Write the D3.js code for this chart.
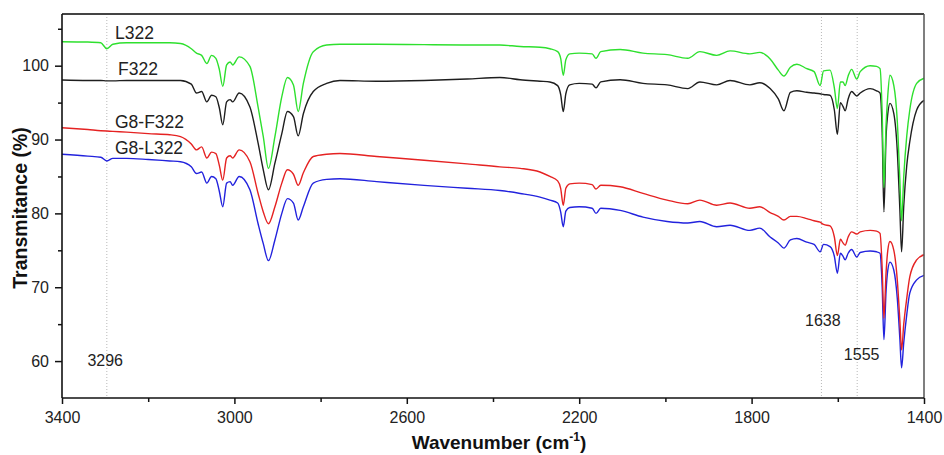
<!DOCTYPE html>
<html>
<head>
<meta charset="utf-8">
<script src="https://cdn.jsdelivr.net/npm/d3@7"></script>
<style>
  body { margin: 0; background: #fff; }
  text { font-family: "Liberation Sans", Arial, sans-serif; }
</style>
</head>
<body>
<div id="chart"></div>
<script>
// data (wavenumber grid shared by all four spectra)
var wavenumbers = [
  3400, 3340, 3310, 3296, 3282, 3250, 3200, 3150, 3125, 3100,
  3088, 3076, 3064, 3053, 3043, 3035, 3027, 3018, 3010, 3004,
  2989, 2964, 2945, 2933, 2921, 2906, 2890, 2877, 2863, 2852,
  2840, 2817, 2786, 2755, 2670, 2560, 2460, 2384, 2337, 2291,
  2268, 2250, 2243, 2237, 2231, 2222, 2200, 2170, 2161, 2150,
  2105, 2052, 1996, 1948, 1920, 1881, 1850, 1804, 1781, 1757,
  1738, 1725, 1710, 1695, 1672, 1655, 1641, 1633, 1618, 1608,
  1601, 1594, 1588, 1583, 1576, 1568, 1556, 1548, 1525, 1510,
  1502, 1497, 1493, 1488, 1484, 1479, 1470, 1462, 1456, 1452,
  1447, 1440, 1433, 1417, 1400
]

var L322 = [
  103.25, 103.2, 103.1, 102.3, 102.9, 103.1, 103.1, 103.1, 103.0, 102.3,
  101.7, 101.4, 100.3, 101.4, 101.0, 99.5, 97.2, 100.1, 100.5, 100.1,
  101.2, 99.9, 94.4, 90.4, 86.1, 90.4, 95.8, 98.4, 97.4, 93.8,
  97.6, 101.9, 102.8, 102.9, 102.9, 102.85, 102.8, 102.8, 102.6, 102.5,
  102.3, 101.9, 101.0, 98.7, 100.8, 101.6, 101.7, 101.6, 101.0, 101.9,
  102.2, 101.7, 101.5, 101.0, 101.9, 101.4, 102.0, 101.6, 101.8, 100.9,
  99.4, 98.6, 99.8, 100.2, 99.6, 99.2, 97.3, 99.3, 99.4, 97.0,
  94.2, 97.8, 97.8, 97.3, 98.6, 99.5, 98.2, 99.2, 100.0, 99.9,
  99.6, 93.5, 83.5, 92.0, 96.0, 98.7, 97.3, 92.5, 84.5, 79.0,
  85.0, 90.5, 94.0, 97.6, 98.3
]

var F322 = [
  98.06, 98.0, 98.0, 97.95, 97.95, 98.0, 98.0, 98.0, 98.0, 97.5,
  96.3, 96.5, 95.1, 96.0, 95.8, 94.3, 92.0, 95.1, 95.4, 95.1,
  96.3, 94.4, 89.5, 85.9, 83.2, 86.8, 90.8, 93.8, 93.1, 90.5,
  93.5, 96.5, 97.6, 98.0, 97.9, 98.0, 98.2, 98.4, 98.1, 97.9,
  97.8, 97.3, 96.1, 93.8, 96.2, 97.4, 97.6, 97.5, 97.0, 97.8,
  98.1, 97.6, 97.4, 96.9, 97.8, 97.4, 98.0, 97.4, 97.7, 96.9,
  95.5, 93.9, 96.4, 96.6, 96.4, 96.3, 96.2, 96.1, 96.0, 94.0,
  90.7, 95.0, 94.5, 93.9, 95.5, 96.5, 95.9, 96.3, 96.9, 96.6,
  96.3, 91.0, 80.2, 90.5, 93.5, 94.9, 93.5, 88.5, 80.5, 74.8,
  81.0, 86.5, 89.7, 94.0, 95.3
]

var G8_F322 = [
  91.6, 91.35, 91.2, 91.15, 91.1, 91.0, 90.8, 90.65, 90.4, 89.4,
  88.6, 89.0, 87.5, 88.3, 88.1, 86.5, 84.5, 87.5, 87.8, 87.5,
  88.6, 87.0, 82.7, 80.2, 78.6, 80.9, 84.1, 85.9, 85.3, 83.8,
  85.5, 87.7, 88.0, 88.1, 87.7, 87.2, 86.7, 86.3, 86.1, 85.6,
  85.0, 84.4, 83.4, 81.1, 83.4, 84.0, 84.1, 83.9, 83.3, 83.8,
  83.6, 82.7, 81.8, 81.3, 81.8, 81.1, 81.4, 80.7, 80.9, 80.1,
  79.6, 79.1, 79.6, 79.6, 79.3, 79.0, 78.8, 78.5, 78.3, 76.8,
  74.3, 76.5, 76.0, 75.7, 76.8, 77.5, 77.2, 77.5, 77.7, 77.6,
  77.3, 72.5, 65.8, 72.0, 75.0, 76.2, 75.0, 71.0, 65.5, 61.5,
  65.0, 68.5, 71.4, 73.7, 74.4
]

var G8_L322 = [
  88.0, 87.75, 87.6, 87.1, 87.45, 87.45, 87.3, 87.1, 87.0, 86.3,
  85.4, 85.6, 84.1, 85.0, 84.7, 83.0, 80.9, 84.1, 84.3, 83.8,
  85.0, 83.2, 78.6, 75.9, 73.6, 76.4, 80.0, 82.0, 81.4, 79.1,
  80.9, 84.1, 84.6, 84.7, 84.3, 83.8, 83.4, 83.1, 82.7, 82.2,
  81.8, 81.4, 80.2, 78.2, 80.3, 80.8, 80.9, 80.7, 80.0, 80.7,
  80.4, 79.5, 78.9, 78.7, 78.9, 78.2, 78.4, 77.7, 78.0, 76.8,
  76.0, 75.3, 76.4, 76.6, 76.1, 75.8, 74.8, 75.8, 75.5, 74.2,
  71.9, 74.6, 74.2, 73.7, 74.6, 75.1, 74.1, 74.7, 74.9, 74.8,
  74.6, 70.0, 62.9, 69.5, 72.3, 73.4, 72.3, 68.5, 63.0, 59.1,
  62.5, 66.3, 69.2, 71.0, 71.6
]

var xMajor = [3400, 3000, 2600, 2200, 1800, 1400]
var xMinor = [3200, 2800, 2400, 2000, 1600]
var yMajor = [60, 70, 80, 90, 100]
var yMinor = [65, 75, 85, 95, 105]
var markers = [3296, 1638, 1555]

// series in drawing order (green over black, red over blue)
var series = [
  { name: "F322", values: F322, color: "#1e1e1e", label: [3270, 98.7] },
  { name: "L322", values: L322, color: "#2ee02e", label: [3277, 103.6] },
  { name: "G8-L322", values: G8_L322, color: "#2222dd", label: [3277, 88.0] },
  { name: "G8-F322", values: G8_F322, color: "#e52222", label: [3277, 91.6] }
]
var markerLabels = [
  { text: "3296", at: [3341, 59.4] },
  { text: "1638", at: [1676, 64.8] },
  { text: "1555", at: [1586, 60.1] }
]

// DIMENSIONS
var svgWidth = 944
var svgHeight = 455
var margin = { top: 14, right: 20, bottom: 57, left: 62 }
var width = svgWidth - margin.left - margin.right
var height = svgHeight - margin.top - margin.bottom

var svg = d3.select("#chart").append("svg")
    .attr("width", svgWidth)
    .attr("height", svgHeight)

var chartGroup = svg.append("g")
    .attr("transform", `translate(${margin.left}, ${margin.top})`)

var xScale = d3.scaleLinear().domain([3400, 1400]).range([0, width])
var yScale = d3.scaleLinear().domain([55, 107]).range([height, 0])

// dotted marker lines
chartGroup.selectAll("line.marker")
    .data(markers)
    .enter()
    .append("line")
    .attr("class", "marker")
    .attr("x1", d => xScale(d)).attr("x2", d => xScale(d))
    .attr("y1", 0).attr("y2", height)
    .attr("stroke", "#b8b8b8")
    .attr("stroke-width", 1)
    .attr("stroke-dasharray", "1,2")

// spectra
var line = d3.line()
    .x((d, i) => xScale(wavenumbers[i]))
    .y(d => yScale(d))
    .curve(d3.curveMonotoneX)

series.forEach(s => {
    chartGroup.append("path")
        .attr("d", line(s.values))
        .attr("fill", "none")
        .attr("stroke", s.color)
        .attr("stroke-width", 1.4)
        .attr("stroke-linejoin", "round")
})

// frame: top and right
chartGroup.append("line")
    .attr("x1", 0).attr("x2", width).attr("y1", 0).attr("y2", 0)
    .attr("stroke", "#444").attr("stroke-width", 2)
chartGroup.append("line")
    .attr("x1", width).attr("x2", width).attr("y1", 0).attr("y2", height)
    .attr("stroke", "#555").attr("stroke-width", 1.5)

// axes
var xAxisMinor = d3.axisBottom(xScale).tickValues(xMinor).tickSize(4).tickFormat("")
var xAxis = d3.axisBottom(xScale).tickValues(xMajor).tickSize(6).tickPadding(8).tickFormat(d3.format("d"))
var yAxisMinor = d3.axisLeft(yScale).tickValues(yMinor).tickSize(4).tickFormat("")
var yAxis = d3.axisLeft(yScale).tickValues(yMajor).tickSize(7).tickPadding(6).tickFormat(d3.format("d"))

function styleAxis(g) {
    g.select(".domain").remove()
    g.selectAll("line").attr("stroke", "#111").attr("stroke-width", 1.5)
    g.selectAll("text").attr("font-size", 16).attr("fill", "#222")
        .attr("font-family", "'Liberation Sans', Arial, sans-serif")
}

chartGroup.append("g").attr("transform", `translate(0,${height})`).call(xAxisMinor).call(styleAxis)
chartGroup.append("g").attr("transform", `translate(0,${height})`).call(xAxis).call(styleAxis)
chartGroup.append("g").call(yAxisMinor).call(styleAxis)
chartGroup.append("g").call(yAxis).call(styleAxis)

chartGroup.append("line")
    .attr("x1", 0).attr("x2", width).attr("y1", height).attr("y2", height)
    .attr("stroke", "#111").attr("stroke-width", 1.6)
chartGroup.append("line")
    .attr("x1", 0).attr("x2", 0).attr("y1", 0).attr("y2", height)
    .attr("stroke", "#111").attr("stroke-width", 1.6)

// series labels
chartGroup.selectAll("text.seriesLabel")
    .data(series)
    .enter()
    .append("text")
    .attr("class", "seriesLabel")
    .attr("x", d => xScale(d.label[0]))
    .attr("y", d => yScale(d.label[1]))
    .attr("font-size", 17.5)
    .attr("fill", "#222")
    .text(d => d.name)

// marker labels
chartGroup.selectAll("text.markerLabel")
    .data(markerLabels)
    .enter()
    .append("text")
    .attr("class", "markerLabel")
    .attr("x", d => xScale(d.at[0]))
    .attr("y", d => yScale(d.at[1]))
    .attr("font-size", 16)
    .attr("fill", "#222")
    .text(d => d.text)

// axis titles
var xTitle = svg.append("text")
    .attr("x", margin.left + width / 2 + 6)
    .attr("y", 449)
    .attr("text-anchor", "middle")
    .attr("font-size", 19)
    .attr("font-weight", "bold")
    .attr("fill", "#111")
xTitle.append("tspan").text("Wavenumber (cm")
xTitle.append("tspan").attr("dy", -8).attr("font-size", 12).text("-1")
xTitle.append("tspan").attr("dy", 8).text(")")

svg.append("text")
    .attr("transform", `translate(27, ${margin.top + height / 2 + 2}) rotate(-90)`)
    .attr("text-anchor", "middle")
    .attr("font-size", 19.5)
    .attr("font-weight", "bold")
    .attr("fill", "#111")
    .text("Transmitance (%)")
</script>
</body>
</html>
